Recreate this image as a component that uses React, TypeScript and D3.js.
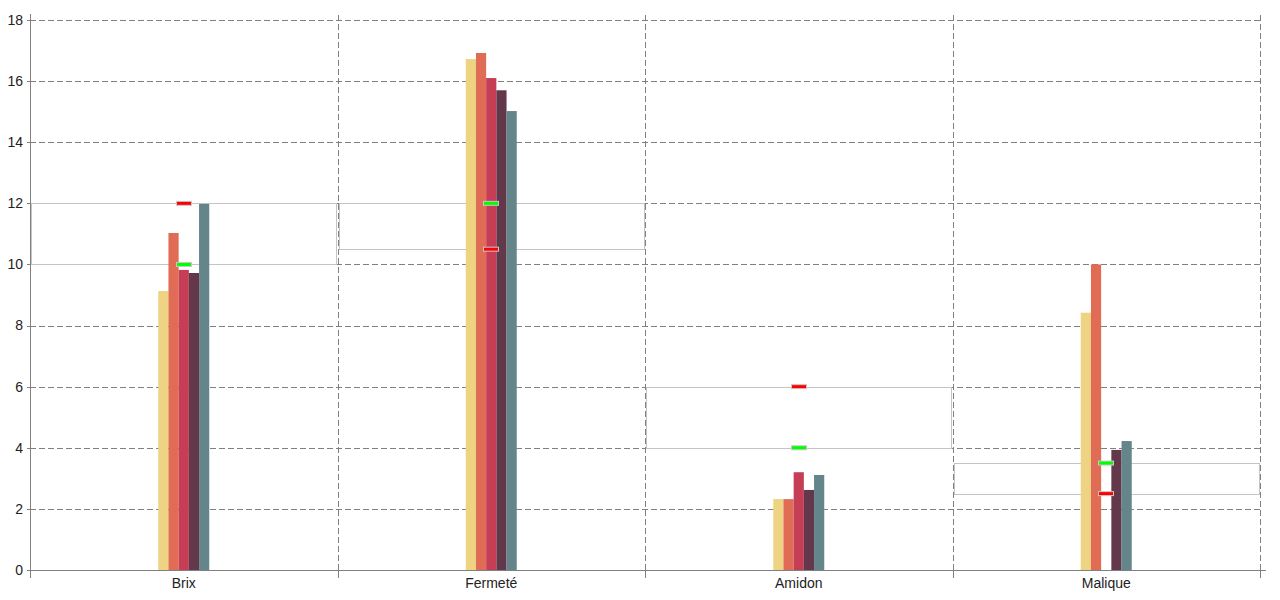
import React from "react";
import * as d3 from "d3";

// Categories and measured series
const categories = ["Brix", "Fermeté", "Amidon", "Malique"];
const seriesNames = ["S1", "S2", "S3", "S4", "S5"];
const seriesColors = ["#EDD382", "#E06C55", "#C63D56", "#63384B", "#64868A"];
const seriesValues: number[][] = [
  [9.13, 16.72, 2.32, 8.42],
  [11.03, 16.92, 2.32, 10.0],
  [9.82, 16.1, 3.2, 0],
  [9.72, 15.7, 2.62, 3.93],
  [11.98, 15.02, 3.11, 4.22],
];
// Reference markers per category
const redMarks = [12, 10.5, 6, 2.5];
const greenMarks = [10, 12, 4, 3.5];
const yTicks = [0, 2, 4, 6, 8, 10, 12, 14, 16, 18];

const W = 1280;
const H = 600;
const left = 30;
const right = 1260;
const top = 20;
const bottom = 570;

export default function App() {
  const x = d3.scaleBand<string>().domain(categories).range([left, right]).padding(0);
  const y = d3.scaleLinear().domain([0, 18]).range([bottom, top]);
  const groupW = 51;
  const xs = d3
    .scaleBand<string>()
    .domain(seriesNames)
    .range([-groupW / 2, groupW / 2])
    .padding(0);
  const bw = x.bandwidth();
  const font = "Arial, 'Liberation Sans', sans-serif";
  const dash = "6,3";

  return (
    <svg
      width={W}
      height={H}
      style={{ position: "absolute", left: 0, top: 0, background: "#fff" }}
      fontFamily={font}
    >
      {/* horizontal grid */}
      {yTicks.slice(1).map((t) => (
        <line
          key={"hg" + t}
          x1={left}
          x2={right}
          y1={Math.round(y(t)) + 0.5}
          y2={Math.round(y(t)) + 0.5}
          stroke="#808080"
          strokeDasharray={dash}
        />
      ))}
      {/* vertical grid at category boundaries */}
      {categories.map((c) => {
        const xx = Math.round((x(c) as number) + bw) + 0.5;
        return (
          <line
            key={"vg" + c}
            x1={xx}
            x2={xx}
            y1={15}
            y2={bottom}
            stroke="#808080"
            strokeDasharray={dash}
          />
        );
      })}
      {/* target bands */}
      {categories.map((c, i) => {
        const x0 = x(c) as number;
        const yA = Math.round(y(Math.max(redMarks[i], greenMarks[i]))) + 0.5;
        const yB = Math.round(y(Math.min(redMarks[i], greenMarks[i]))) + 0.5;
        return (
          <rect
            key={"band" + c}
            x={Math.round(x0) + 1.5}
            y={yA}
            width={Math.round(bw) - 3}
            height={yB - yA}
            fill="none"
            stroke="#C4C4C4"
          />
        );
      })}
      {/* bars */}
      {seriesNames.map((s, si) =>
        categories.map((c, ci) => {
          const v = seriesValues[si][ci];
          if (!v) return null;
          const cx = (x(c) as number) + bw / 2;
          const x0 = cx + (xs(s) as number);
          return (
            <rect
              key={s + c}
              x={x0}
              y={y(v)}
              width={xs.bandwidth()}
              height={bottom - y(v)}
              fill={seriesColors[si]}
            />
          );
        })
      )}
      {/* markers */}
      {categories.map((c, i) => {
        const cx = (x(c) as number) + bw / 2;
        return (
          <g key={"mk" + c}>
            <rect
              x={Math.round(cx) - 7.5}
              y={y(redMarks[i]) - 2}
              width={15}
              height={4}
              fill="#FF0000"
              stroke="#C8C8C8"
            />
            <rect
              x={Math.round(cx) - 7.5}
              y={y(greenMarks[i]) - 2}
              width={15}
              height={4}
              fill="#00FF00"
              stroke="#C8C8C8"
            />
          </g>
        );
      })}
      {/* y axis */}
      <line x1={left + 0.5} x2={left + 0.5} y1={14} y2={bottom} stroke="#808080" />
      {yTicks.map((t) => (
        <g key={"yt" + t}>
          <line
            x1={left - 3}
            x2={left}
            y1={Math.round(y(t)) + 0.5}
            y2={Math.round(y(t)) + 0.5}
            stroke="#808080"
          />
          <text
            x={left - 7}
            y={y(t)}
            dy="0.35em"
            textAnchor="end"
            fontSize={14}
            fill="#222"
          >
            {t}
          </text>
        </g>
      ))}
      {/* x axis */}
      <line x1={left} x2={right + 6} y1={bottom + 0.5} y2={bottom + 0.5} stroke="#808080" />
      {[left, ...categories.map((c) => (x(c) as number) + bw)].map((xx, i) => (
        <line
          key={"xt" + i}
          x1={Math.round(xx) + 0.5}
          x2={Math.round(xx) + 0.5}
          y1={bottom}
          y2={bottom + 8}
          stroke="#808080"
        />
      ))}
      {categories.map((c) => (
        <text
          key={"xl" + c}
          x={(x(c) as number) + bw / 2}
          y={588}
          textAnchor="middle"
          fontSize={14}
          fill="#222"
        >
          {c}
        </text>
      ))}
    </svg>
  );
}
